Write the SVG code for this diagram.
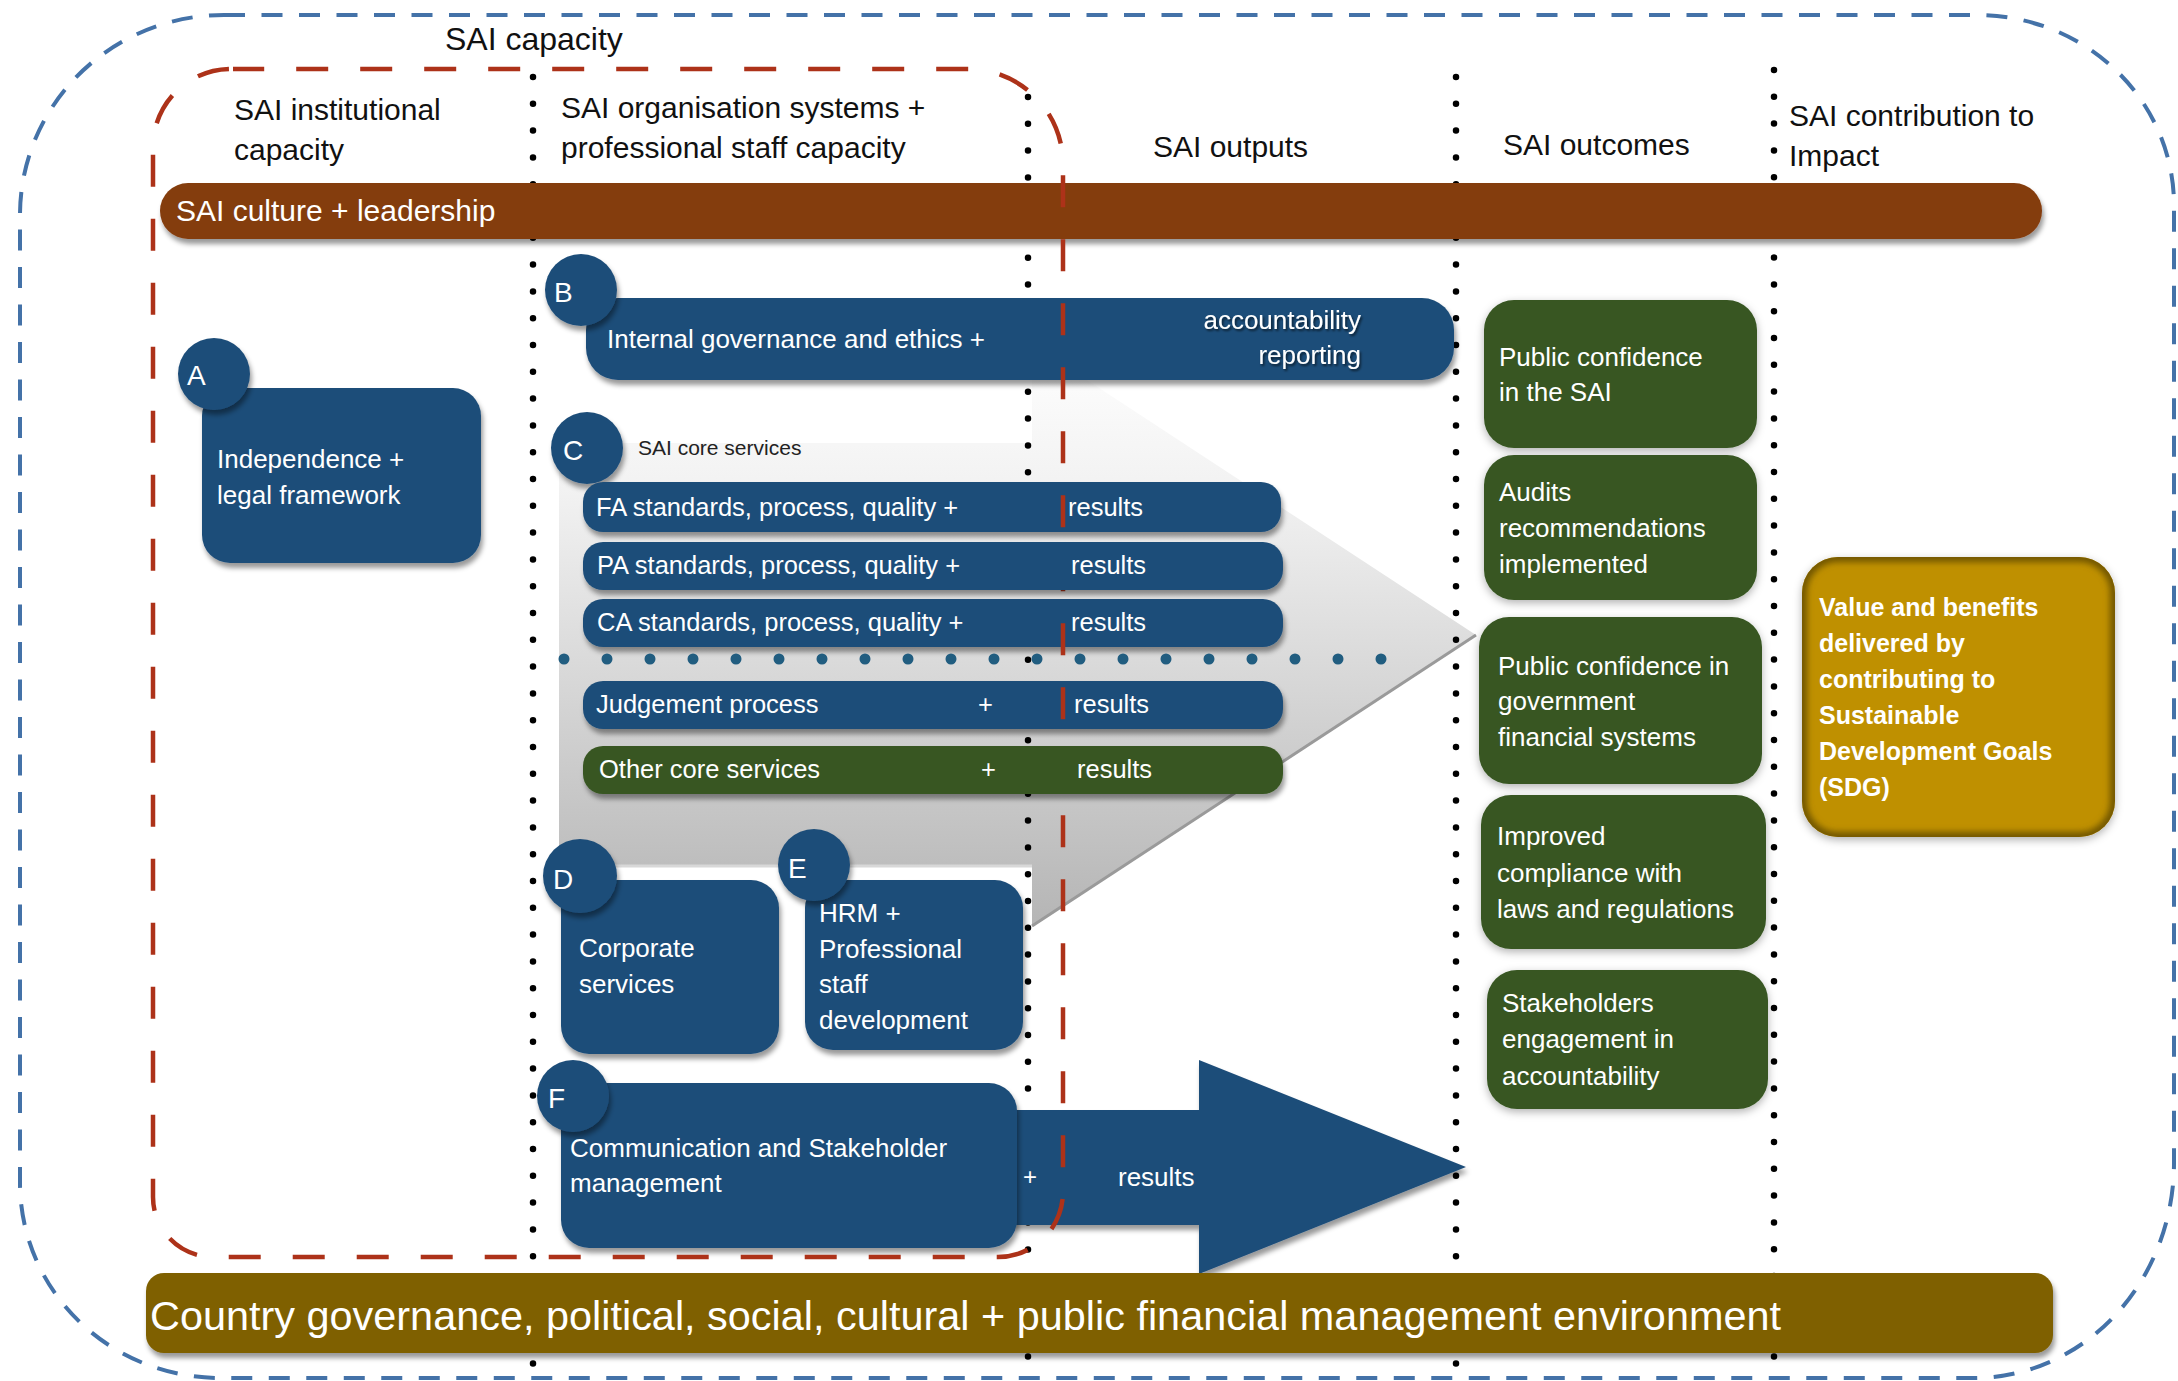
<svg xmlns="http://www.w3.org/2000/svg" width="2178" height="1381" viewBox="0 0 2178 1381">
<defs>
<style>
.t{font-family:"Liberation Sans",Arial,sans-serif}
.hdr{font-size:30px;fill:#111}
.w{fill:#ffffff}
.lt{font-size:28px;fill:#ffffff}
.bt{font-size:25.5px;fill:#ffffff}
.nt{font-size:26px;fill:#ffffff}
.blue{fill:#1f4e79}
.green{fill:#385723}
.dots{fill:none;stroke:#000;stroke-width:6.5;stroke-linecap:round;stroke-dasharray:0 26.8}
</style>
<linearGradient id="gArrow" gradientUnits="userSpaceOnUse" x1="0" y1="344" x2="0" y2="926">
<stop offset="0" stop-color="#ffffff"/>
<stop offset="0.25" stop-color="#f2f2f2"/>
<stop offset="1" stop-color="#b5b5b5"/>
</linearGradient>
<filter id="sh" x="-10%" y="-15%" width="125%" height="150%">
<feDropShadow dx="2" dy="5" stdDeviation="2.5" flood-color="#000" flood-opacity="0.4"/>
</filter>
<filter id="glow" x="-10%" y="-10%" width="125%" height="130%">
<feDropShadow dx="0" dy="3" stdDeviation="4" flood-color="#000" flood-opacity="0.3"/>
</filter>
<filter id="tsh" x="-5%" y="-20%" width="115%" height="150%">
<feDropShadow dx="1.5" dy="2" stdDeviation="1.2" flood-color="#000" flood-opacity="0.6"/>
</filter>
<filter id="blur3"><feGaussianBlur stdDeviation="3"/></filter>
<clipPath id="sdgClip"><rect x="1802" y="557" width="313" height="280" rx="36"/></clipPath>
</defs>

<rect x="0" y="0" width="2178" height="1381" fill="#ffffff"/>

<!-- outer boundary -->
<g id="impact-boundary">
<path d="M224,15 H1977 A197,190 0 0 1 2174,205 V1163 A200,215 0 0 1 1974,1378 H220 A200,195 0 0 1 20,1183 V215 A204,200 0 0 1 224,15 Z" fill="none" stroke="#4472a8" stroke-width="4" stroke-dasharray="21 16.5"/>
</g>

<!-- big grey core services arrow -->
<g id="core-services-arrow">
<path d="M559,443 H1032 V344 L1476,635 L1032,926 V866 H559 Z" fill="url(#gArrow)"/>
<path d="M1476,635 L1032,926" fill="none" stroke="#9a9a9a" stroke-width="3"/>
<path d="M559,866 H1032" fill="none" stroke="#d8d8d8" stroke-width="3"/>
</g>

<!-- column separators -->
<g id="column-lines">
<path class="dots" d="M533,77 V1368"/>
<path class="dots" d="M1028,97 V1368"/>
<path class="dots" d="M1456,77 V1368"/>
<path class="dots" d="M1774,70 V1362"/>
</g>

<!-- SAI culture + leadership -->
<g id="culture-bar">
<rect x="160" y="183" width="1882" height="56" rx="28" fill="#843c0c" filter="url(#sh)"/>
<text class="t w" x="176" y="221" font-size="30">SAI culture + leadership</text>
</g>

<!-- connectors -->
<g id="connectors">
<path d="M1000,1110 H1199 V1060 L1466,1167 L1199,1274 V1225 H1000 Z" fill="#1f4e79" filter="url(#sh)"/>
<text class="t w" x="1030" y="1185" font-size="24" text-anchor="middle">+</text>
<text class="t w" x="1118" y="1186" font-size="26">results</text>
</g>

<!-- A -->
<g id="node-A">
<rect x="202" y="388" width="279" height="175" rx="28" class="blue" filter="url(#sh)"/>
<circle cx="214" cy="374" r="36" class="blue" filter="url(#sh)"/>
<text class="t lt" x="187" y="385">A</text>
<text class="t nt" x="217" y="468">Independence +</text>
<text class="t nt" x="217" y="504">legal framework</text>
</g>

<!-- B -->
<g id="node-B">
<rect x="586" y="298" width="868" height="82" rx="32" class="blue" filter="url(#sh)"/>
<circle cx="581" cy="290" r="36" class="blue" filter="url(#sh)"/>
<text class="t lt" x="554" y="302">B</text>
<text class="t nt" x="607" y="348">Internal governance and ethics +</text>
<g filter="url(#tsh)">
<text class="t nt" x="1361" y="329" text-anchor="end">accountability</text>
<text class="t nt" x="1361" y="364" text-anchor="end">reporting</text>
</g>
</g>

<!-- C -->
<g id="node-C">
<circle cx="587" cy="448" r="36" class="blue" filter="url(#sh)"/>
<text class="t lt" x="563" y="460">C</text>
<text class="t" x="638" y="455" font-size="21" fill="#222">SAI core services</text>
</g>

<g id="node-FA">
<rect x="583" y="482" width="698" height="50" rx="20" class="blue" filter="url(#sh)"/>
<text class="t bt" x="596" y="516">FA standards, process, quality +</text>
<text class="t bt" x="1068" y="516">results</text>
</g>

<g id="node-CA">
<rect x="583" y="599" width="700" height="48" rx="20" class="blue" filter="url(#sh)"/>
<text class="t bt" x="597" y="631">CA standards, process, quality +</text>
<text class="t bt" x="1071" y="631">results</text>
</g>

<g id="separator-dots">
<path d="M564,659 H1384" fill="none" stroke="#215d80" stroke-width="11" stroke-linecap="round" stroke-dasharray="0 43"/>
</g>

<g id="node-judgement">
<rect x="583" y="681" width="700" height="48" rx="20" class="blue" filter="url(#sh)"/>
<text class="t bt" x="596" y="713">Judgement process</text>
<text class="t bt" x="978" y="713">+</text>
<text class="t bt" x="1074" y="713">results</text>
</g>

<!-- D -->
<g id="node-D">
<rect x="561" y="880" width="218" height="174" rx="28" class="blue" filter="url(#sh)"/>
<circle cx="580" cy="876" r="37" class="blue" filter="url(#sh)"/>
<text class="t lt" x="553" y="889">D</text>
<text class="t nt" x="579" y="957">Corporate</text>
<text class="t nt" x="579" y="993">services</text>
</g>

<!-- E -->
<g id="node-E">
<rect x="805" y="880" width="218" height="170" rx="28" class="blue" filter="url(#sh)"/>
<circle cx="814" cy="865" r="36" class="blue" filter="url(#sh)"/>
<text class="t lt" x="788" y="878">E</text>
<text class="t nt" x="819" y="922">HRM +</text>
<text class="t nt" x="819" y="958">Professional</text>
<text class="t nt" x="819" y="993">staff</text>
<text class="t nt" x="819" y="1029">development</text>
</g>

<!-- F -->
<g id="node-F">
<rect x="561" y="1083" width="456" height="165" rx="28" class="blue" filter="url(#sh)"/>
<circle cx="573" cy="1096" r="36" class="blue" filter="url(#sh)"/>
<text class="t lt" x="548" y="1108">F</text>
<text class="t nt" x="570" y="1157">Communication and Stakeholder</text>
<text class="t nt" x="570" y="1192">management</text>
</g>

<!-- SAI capacity boundary -->
<g id="sai-capacity-boundary">
<path d="M233,69 H968 A95,95 0 0 1 1063,164 V1192 A65,65 0 0 1 998,1257 H213 A60,60 0 0 1 153,1197 V147 A78,78 0 0 1 233,69 Z" fill="none" stroke="#ad3219" stroke-width="4.5" stroke-dasharray="32 32" stroke-dashoffset="0.8"/>
</g>

<g id="node-PA">
<rect x="583" y="542" width="700" height="48" rx="20" class="blue" filter="url(#sh)"/>
<text class="t bt" x="597" y="574">PA standards, process, quality +</text>
<text class="t bt" x="1071" y="574">results</text>
</g>

<g id="node-other">
<rect x="583" y="746" width="700" height="48" rx="20" class="green" filter="url(#sh)"/>
<text class="t bt" x="599" y="778">Other core services</text>
<text class="t bt" x="981" y="778">+</text>
<text class="t bt" x="1077" y="778">results</text>
</g>

<!-- outcomes -->
<g id="outcome-1">
<rect x="1484" y="300" width="273" height="148" rx="30" class="green" filter="url(#glow)"/>
<text class="t nt" x="1499" y="366">Public confidence</text>
<text class="t nt" x="1499" y="401">in the SAI</text>
</g>
<g id="outcome-2">
<rect x="1484" y="455" width="273" height="145" rx="30" class="green" filter="url(#glow)"/>
<text class="t nt" x="1499" y="501">Audits</text>
<text class="t nt" x="1499" y="537">recommendations</text>
<text class="t nt" x="1499" y="573">implemented</text>
</g>
<g id="outcome-3">
<rect x="1479" y="617" width="283" height="167" rx="30" class="green" filter="url(#glow)"/>
<text class="t nt" x="1498" y="675">Public confidence in</text>
<text class="t nt" x="1498" y="710">government</text>
<text class="t nt" x="1498" y="746">financial systems</text>
</g>
<g id="outcome-4">
<rect x="1481" y="795" width="285" height="154" rx="30" class="green" filter="url(#glow)"/>
<text class="t nt" x="1497" y="845">Improved</text>
<text class="t nt" x="1497" y="882">compliance with</text>
<text class="t nt" x="1497" y="918">laws and regulations</text>
</g>
<g id="outcome-5">
<rect x="1487" y="970" width="281" height="139" rx="30" class="green" filter="url(#glow)"/>
<text class="t nt" x="1502" y="1012">Stakeholders</text>
<text class="t nt" x="1502" y="1048">engagement in</text>
<text class="t nt" x="1502" y="1085">accountability</text>
</g>

<!-- impact -->
<g id="impact-SDG">
<rect x="1802" y="557" width="313" height="280" rx="36" fill="#bf9000" filter="url(#glow)"/>
<g clip-path="url(#sdgClip)">
<rect x="1802" y="557" width="313" height="280" rx="36" fill="none" stroke="#6f5400" stroke-width="10" filter="url(#blur3)"/>
</g>
<g class="t" font-size="25" font-weight="bold" fill="#ffffff">
<text x="1819" y="616">Value and benefits</text>
<text x="1819" y="652">delivered by</text>
<text x="1819" y="688">contributing to</text>
<text x="1819" y="724">Sustainable</text>
<text x="1819" y="760">Development Goals</text>
<text x="1819" y="796">(SDG)</text>
</g>
</g>

<!-- environment bar -->
<g id="environment-bar">
<rect x="146" y="1273" width="1907" height="80" rx="18" fill="#7f6000" filter="url(#sh)"/>
<text class="t w" x="150" y="1330" font-size="41" textLength="1631" lengthAdjust="spacingAndGlyphs">Country governance, political, social, cultural + public financial management environment</text>
</g>

<!-- headers -->
<g id="headers">
<text class="t" x="445" y="50" font-size="32" fill="#111">SAI capacity</text>
<text class="t hdr" x="234" y="120">SAI institutional</text>
<text class="t hdr" x="234" y="160">capacity</text>
<text class="t hdr" x="561" y="118">SAI organisation systems +</text>
<text class="t hdr" x="561" y="158">professional staff capacity</text>
<text class="t hdr" x="1153" y="157">SAI outputs</text>
<text class="t hdr" x="1503" y="155">SAI outcomes</text>
<text class="t hdr" x="1789" y="126">SAI contribution to</text>
<text class="t hdr" x="1789" y="166">Impact</text>
</g>
</svg>
